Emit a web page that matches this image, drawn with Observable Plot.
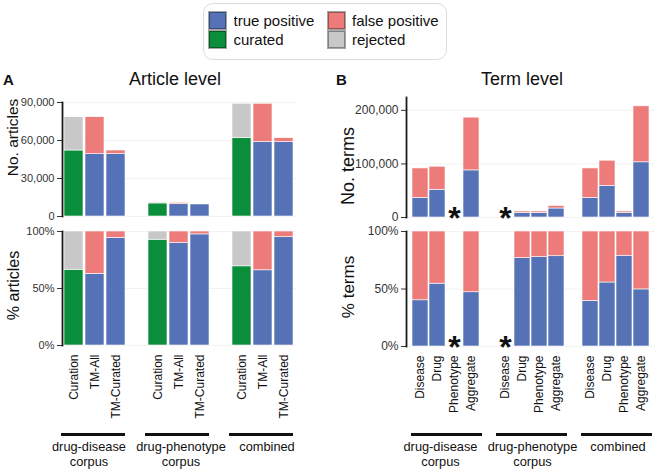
<!DOCTYPE html>
<html><head><meta charset="utf-8">
<script src="https://cdn.jsdelivr.net/npm/d3@7"></script>
<script src="https://cdn.jsdelivr.net/npm/@observablehq/plot@0.6"></script>
<style>
body{margin:0;background:#fff;}
#root{position:relative;width:660px;height:473px;overflow:hidden;font-family:"Liberation Sans",Arial,Helvetica,sans-serif;color:#111;background:#fff;}
.host{position:absolute;}
.host svg{overflow:visible;display:block;}
.title{position:absolute;font-size:18px;line-height:18px;width:200px;text-align:center;white-space:nowrap;}
.panel{position:absolute;font-size:15px;line-height:15px;font-weight:bold;}
.gline{position:absolute;height:3px;background:#111;}
.glabel{position:absolute;width:120px;text-align:center;font-size:12.8px;line-height:15px;white-space:pre;}
#legendbox{position:absolute;left:203px;top:3px;width:244px;height:57px;box-sizing:border-box;border:1.5px solid #dcdcdc;border-radius:10px;padding:8px 0 0 5px;}
#legendbox svg rect{stroke:rgba(0,0,0,0.35);stroke-width:2px;}
#legendbox .lg-swatch{padding-bottom:2px !important;}
</style></head><body><div id="root"></div>
<script>
// ---------- data ----------
const groups = ["drug-disease corpus", "drug-phenotype corpus", "combined"];
const articleMethods = ["Curation", "TM-All", "TM-Curated"];
const articlePositive = [52100, 49200, 49200, 10300, 9700, 9600, 61800, 58700, 58700];
const articleNegative = [26300, 29200, 2900, 800, 1100, 250, 27200, 30300, 3100];
const articlePositiveKind = ["curated", "true positive", "true positive"];
const articleNegativeKind = ["rejected", "false positive", "false positive"];

const termTypes = ["Disease", "Drug", "Phenotype", "Aggregate"];
const termTruePositive = [36800, 51800, null, 87900, null, 8600, 8700, 16800, 36300, 59000, 8800, 103000];
const termFalsePositive = [54800, 43000, null, 98500, null, 2600, 2500, 4600, 55300, 47000, 2400, 104500];

const articleTicks = [0, 30000, 60000, 90000];
const termTicks = [0, 100000, 200000];
const shareTicks = [0, 0.5, 1];

const statusNames = ["true positive", "false positive", "curated", "rejected"];
const statusColors = ["#5672b6", "#ec7b79", "#0b8e3b", "#c8c8c8"];
const legendOrder = ["true positive", "curated", "false positive", "rejected"];

// ---------- helpers ----------
const FONT = "'Liberation Sans', Arial, Helvetica, sans-serif";
const root = document.getElementById("root");

function buildKeys(items) {
  const keys = [], labels = new Map(), groupKeys = [];
  groups.forEach((g, gi) => {
    if (gi > 0) { const k = "gap" + gi; keys.push(k); labels.set(k, ""); }
    const ks = items.map(it => g + "|" + it);
    ks.forEach((k, i) => { keys.push(k); labels.set(k, items[i]); });
    groupKeys.push(ks);
  });
  return {keys, labels, groupKeys};
}

const A = buildKeys(articleMethods);
const B = buildKeys(termTypes);

const articleRows = [];
groups.forEach((g, gi) => articleMethods.forEach((m, mi) => {
  const i = gi * articleMethods.length + mi, key = g + "|" + m;
  articleRows.push({key, status: articlePositiveKind[mi], value: articlePositive[i]});
  articleRows.push({key, status: articleNegativeKind[mi], value: articleNegative[i]});
}));

const termRows = [], termStars = [];
groups.forEach((g, gi) => termTypes.forEach((t, ti) => {
  const i = gi * termTypes.length + ti, key = g + "|" + t;
  if (termTruePositive[i] == null) { termStars.push(key); return; }
  termRows.push({key, status: "true positive", value: termTruePositive[i]});
  termRows.push({key, status: "false positive", value: termFalsePositive[i]});
}));

function chart(o) {
  const frameMid = (o.mt + (o.height - o.mb)) / 2;
  const marks = [
    Plot.gridY({ticks: o.ticks, stroke: "#000", strokeOpacity: 0.05}),
    Plot.barY(o.rows, Object.assign({x: "key", y: "value", fill: "status", stroke: "#fff", strokeWidth: 0.6},
      o.normalize ? {offset: "normalize"} : {})),
    Plot.axisY({ticks: o.ticks, tickFormat: o.format, tickSize: 5, tickPadding: 3, fontSize: o.tickFont, label: null, color: "#333"}),
    Plot.frame({anchor: "left", stroke: "#1a1a1a", strokeWidth: 1.8}),
    Plot.text([o.ylabel], {frameAnchor: "left", rotate: -90, textAnchor: "middle", text: d => d, fontSize: o.ylabSize, fill: "#111",
      dx: o.ylabX - o.ml, dy: o.ylabY - frameMid})
  ];
  if (o.stars && o.stars.length)
    marks.push(Plot.text(o.stars, {x: d => d, y: 0, text: () => "*", fontSize: 32, fontWeight: "bold", fill: "#111", dy: o.starDy}));
  if (o.showX)
    marks.push(Plot.axisX({tickRotate: -90, tickSize: 0, tickPadding: 9, fontSize: 12, tickFormat: k => o.labels.get(k), label: null, color: "#111"}));
  const p = Plot.plot({
    width: o.width, height: o.height,
    marginLeft: o.ml, marginRight: o.mr, marginTop: o.mt, marginBottom: o.mb,
    style: {fontFamily: FONT, background: "transparent", overflow: "visible"},
    x: Object.assign({type: "band", domain: o.keys, paddingInner: 0.08, paddingOuter: 0.04}, o.showX ? {} : {axis: null}),
    y: {domain: o.domain, axis: null},
    color: {domain: statusNames, range: statusColors},
    marks
  });
  const host = document.createElement("div");
  host.className = "host";
  host.style.left = o.left + "px";
  host.style.top = o.top + "px";
  host.appendChild(p);
  root.appendChild(host);
  return p;
}

function addText(cls, text, left, top, extra) {
  const d = document.createElement("div");
  d.className = cls;
  d.textContent = text;
  d.style.left = left + "px";
  d.style.top = top + "px";
  if (extra) Object.assign(d.style, extra);
  root.appendChild(d);
  return d;
}

function groupDecor(p, leftOffset, groupKeys, padL, padR, labelShift) {
  const xs = p.scale("x");
  groupKeys.forEach((ks, gi) => {
    const x0 = leftOffset + xs.apply(ks[0]) - padL;
    const x1 = leftOffset + xs.apply(ks[ks.length - 1]) + xs.bandwidth + padR;
    const line = document.createElement("div");
    line.className = "gline";
    line.style.left = x0 + "px";
    line.style.top = "433px";
    line.style.width = (x1 - x0) + "px";
    root.appendChild(line);
    addText("glabel", groups[gi].replace(" ", "\n"), (x0 + x1) / 2 - 60 + labelShift[gi], 439);
  });
}

// ---------- panel A (positions relative to each SVG) ----------
chart({rows: articleRows, keys: A.keys, labels: A.labels, ticks: articleTicks, domain: [0, 90000],
  format: d3.format(","), tickFont: 11, left: 0, top: 90, width: 300, height: 135,
  ml: 62, mr: 4, mt: 12, mb: 9, ylabel: "No. articles", ylabX: 13, ylabY: 47, ylabSize: 15.5});
const pA2 = chart({rows: articleRows, keys: A.keys, labels: A.labels, ticks: shareTicks, domain: [0, 1],
  normalize: true, format: d3.format(".0%"), tickFont: 11, showX: true, left: 0, top: 220, width: 300, height: 210,
  ml: 62, mr: 4, mt: 11, mb: 85, ylabel: "% articles", ylabX: 13, ylabY: 65, ylabSize: 16});
groupDecor(pA2, 0, A.groupKeys, 3, 0, [-4, 4, 6]);

// ---------- panel B ----------
chart({rows: termRows, keys: B.keys, labels: B.labels, ticks: termTicks, domain: [0, 224000], stars: termStars, starDy: 1,
  format: d3.format(","), tickFont: 12, left: 330, top: 90, width: 330, height: 135,
  ml: 76, mr: 5, mt: 7, mb: 8, ylabel: "No. terms", ylabX: 18, ylabY: 75.5, ylabSize: 18});
const pB2 = chart({rows: termRows, keys: B.keys, labels: B.labels, ticks: shareTicks, domain: [0, 1], stars: termStars, starDy: 1,
  normalize: true, format: d3.format(".0%"), tickFont: 12, showX: true, left: 330, top: 220, width: 330, height: 210,
  ml: 76, mr: 5, mt: 11, mb: 84, ylabel: "% terms", ylabX: 18, ylabY: 66.5, ylabSize: 17});
groupDecor(pB2, 330, B.groupKeys, 1, 3, [-6, 1, 1.5]);

// ---------- titles ----------
addText("panel", "A", 3, 72);
addText("panel", "B", 336, 72);
addText("title", "Article level", 175 - 100, 70);
addText("title", "Term level", 522 - 100, 70);

// ---------- legend ----------
const lbox = document.createElement("div");
lbox.id = "legendbox";
lbox.appendChild(Plot.legend({
  color: {type: "ordinal", domain: legendOrder, range: legendOrder.map(s => statusColors[statusNames.indexOf(s)])},
  legend: "swatches", columns: 2, swatchSize: 17, className: "lg",
  style: {fontSize: "15px", fontFamily: FONT, color: "#111", width: "237px", margin: "0", columnGap: "0px"}
}));
root.appendChild(lbox);
</script></body></html>
